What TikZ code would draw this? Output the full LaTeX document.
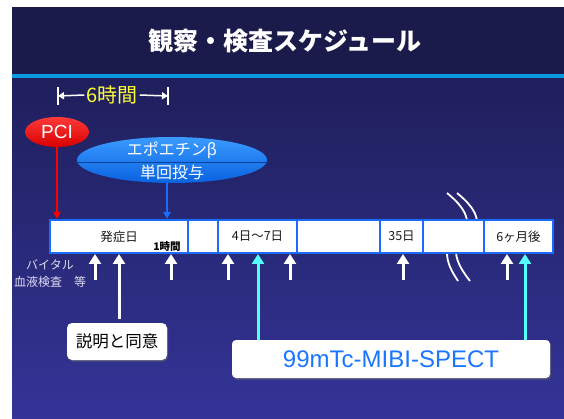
\documentclass[tikz,border=0pt]{standalone}
\usepackage{fontspec}
\setmainfont{Liberation Sans}
\newfontfamily\jp{Noto Sans CJK JP}
\usetikzlibrary{shapes.geometric,arrows.meta,shadows,calc}

\definecolor{titlebar}{HTML}{1B1B4B}
\definecolor{topbody}{HTML}{1F1F5C}
\definecolor{botbody}{HTML}{343498}
\definecolor{rulecol}{HTML}{0A9BE0}
\definecolor{boxblue}{HTML}{1A6BFF}
\definecolor{cyanarr}{HTML}{55FFFF}
\definecolor{spectblue}{HTML}{1A75FF}
\definecolor{labelgray}{HTML}{DADAF0}
\definecolor{yel}{HTML}{FFFF33}
\definecolor{ellTop}{HTML}{3A9BFF}
\definecolor{ellBot}{HTML}{0A62E0}
\definecolor{pciTop}{HTML}{FF3A3A}
\definecolor{pciBot}{HTML}{D80000}

\begin{document}
\begin{tikzpicture}[x=1pt,y=-1pt,
  tlbox/.style={draw=boxblue,line width=2pt,fill=white,minimum height=33pt,inner sep=0pt,
    font=\jp\fontsize{12.5}{14}\selectfont,text=black!90},
  uparrow/.style={draw=white,line width=3pt,-{Triangle[width=12pt,length=10pt]}},
  cyarrow/.style={draw=cyanarr,line width=3pt,-{Triangle[width=12pt,length=10pt]}},
  brk/.style={draw=white,line width=1.8pt},
  sidelabel/.style={text=labelgray,font=\jp\fontsize{12}{14}\selectfont,inner sep=0pt},
  whitebox/.style={fill=white,rounded corners=5pt,drop shadow={shadow xshift=1.2pt,shadow yshift=-1.5pt,fill=black!60,opacity=.6}}
]
\useasboundingbox (0,0) rectangle (564,419);

% background
\fill[white] (0,0) rectangle (564,419);
\fill[titlebar] (12,7) rectangle (564,74);
\shade[top color=topbody,bottom color=botbody] (12,78) rectangle (564,419);
\fill[rulecol] (12,74) rectangle (564,78);

\node[text=white,font=\jp\bfseries\fontsize{25}{30}\selectfont] (title) at (285,41) {観察・検査スケジュール};

% 6 hours bracket
\node[text=yel,font=\jp\fontsize{20}{22}\selectfont,inner sep=2pt] (six) at (112,95) {6時間};
\coordinate (L) at (58,96);
\coordinate (R) at (168,96);
\draw[white,line width=1.5pt] ($(L)+(0,-9)$) -- ($(L)+(0,9)$);
\draw[white,line width=1.5pt] ($(R)+(0,-9)$) -- ($(R)+(0,9)$);
\draw[white,line width=1.5pt,-{Triangle[width=7pt,length=6pt]}] (six.west) -- (L);
\draw[white,line width=1.5pt,-{Triangle[width=7pt,length=6pt]}] (six.east) -- (R);

% break marks
\draw[brk] (447,193) .. controls (458,202) and (466,211) .. (467,221);
\draw[brk] (457,193) .. controls (468,202) and (476,211) .. (477,221);
\draw[brk] (447,253) .. controls (447,263) and (452,272) .. (458,281);
\draw[brk] (456,253) .. controls (457,263) and (463,272) .. (470,281);

% timeline boxes
\node[tlbox,minimum width=138pt] (b1) at (119,236.5) {発症日};
\node[tlbox,minimum width=30pt]  (b2) at (203,236.5) {};
\node[tlbox,minimum width=79pt]  (b3) at (257.5,236.5) {4日〜7日};
\node[tlbox,minimum width=83pt]  (b4) at (338.5,236.5) {};
\node[tlbox,minimum width=43pt]  (b5) at (401.5,236.5) {35日};
\node[tlbox,minimum width=61pt]  (b6) at (453.5,236.5) {};
\node[tlbox,minimum width=69pt]  (b7) at (518.5,236.5) {6ヶ月後};
\node[font=\jp\bfseries\fontsize{10.5}{12}\selectfont,text=black,inner sep=0pt] (onehr) at (167,247) {1時間};

% PCI and epoetin
\node[ellipse,minimum width=64pt,minimum height=30pt,inner sep=0pt,top color=pciTop,bottom color=pciBot,
      text=white,font=\fontsize{19}{22}\selectfont] (pci) at (57,132) {PCI};
\node[ellipse,minimum width=190pt,minimum height=46pt,inner sep=0pt,top color=ellTop,bottom color=ellBot] (ell) at (172,160) {};
\draw[draw=ellBot!70!black,line width=0.7pt] ($(ell.west)+(1,2)$) -- ($(ell.east)+(-1,2)$);
\node[text=white,font=\jp\fontsize{16}{18}\selectfont,inner sep=0pt] (epo) at (172,150) {エポエチンβ};
\node[text=white,font=\jp\fontsize{16}{18}\selectfont,inner sep=0pt] (tan) at (172,172) {単回投与};

\draw[red,line width=2pt,-{Triangle[width=7pt,length=7pt]}] (pci.south) -- (pci.south |- b1.north);
\coordinate (bx) at (167,0);
\draw[boxblue,line width=2pt,-{Triangle[width=7pt,length=7pt]}] (ell.south -| bx) -- (bx |- b1.north);

% side labels
\node[sidelabel] (vital) at (50,265) {バイタル};
\node[sidelabel] (blood) at (50,282) {血液検査　等};

% short arrows
\coordinate (a1) at (95,280);
\coordinate (a2) at (171,280);
\coordinate (a3) at (228,280);
\coordinate (a4) at (290,280);
\coordinate (a5) at (403,280);
\coordinate (a6) at (507,280);
\draw[uparrow] (a1) -- (a1 |- b1.south);
\draw[uparrow] (a2) -- (a2 |- b1.south);
\draw[uparrow] (a3) -- (a3 |- b3.south);
\draw[uparrow] (a4) -- (a4 |- b3.south);
\draw[uparrow] (a5) -- (a5 |- b5.south);
\draw[uparrow] (a6) -- (a6 |- b7.south);

% consent box
\node[whitebox,minimum width=100pt,minimum height=37pt,inner sep=0pt,text=black,
      font=\jp\fontsize{16.5}{19}\selectfont] (setsu) at (117,341.5) {説明と同意};
\draw[uparrow,shorten <=4pt] (setsu.north -| b1.south) -- (b1.south);

% SPECT box
\node[whitebox,rounded corners=4pt,minimum width=318pt,minimum height=38pt,inner sep=0pt,text=spectblue,
      font=\fontsize{24}{28}\selectfont] (spect) at (391,359) {99mTc-MIBI-SPECT};
\coordinate (c1) at (258,0);
\coordinate (c2) at (525,0);
\draw[cyarrow] (spect.north -| c1) -- (c1 |- b3.south);
\draw[cyarrow] (spect.north -| c2) -- (c2 |- b7.south);
\end{tikzpicture}
\end{document}
